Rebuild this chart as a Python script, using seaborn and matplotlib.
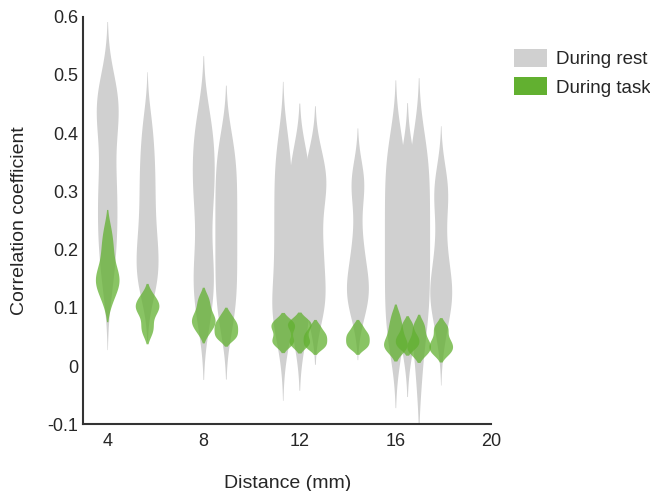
import numpy as np
import pandas as pd
import matplotlib
matplotlib.use("Agg")
import matplotlib.pyplot as plt
from matplotlib.patches import Patch
import seaborn as sns

# electrode pair distances (mm)
distances = [4, 5.66, 8, 8.94, 11.31, 12, 12.65, 14.42, 16, 16.49, 16.97, 17.89]

# correlation values, one list per distance
rest_values = [
    [0.12, 0.15, 0.17, 0.19, 0.205, 0.22, 0.235, 0.25, 0.265, 0.28, 0.295, 0.31, 0.325, 0.34, 0.36, 0.39, 0.405, 0.42, 0.43, 0.44, 0.45, 0.46, 0.47, 0.48, 0.50],
    [0.12, 0.13, 0.14, 0.15, 0.16, 0.17, 0.18, 0.19, 0.20, 0.21, 0.22, 0.235, 0.25, 0.265, 0.28, 0.295, 0.31, 0.325, 0.34, 0.355, 0.37, 0.39, 0.41, 0.43],
    [0.07, 0.10, 0.12, 0.14, 0.16, 0.18, 0.20, 0.24, 0.27, 0.29, 0.31, 0.33, 0.35, 0.37, 0.39, 0.41, 0.44],
    [0.06, 0.09, 0.11, 0.13, 0.15, 0.17, 0.19, 0.21, 0.23, 0.25, 0.27, 0.29, 0.31, 0.33, 0.35, 0.37, 0.40],
    [0.03, 0.07, 0.08, 0.09, 0.10, 0.11, 0.13, 0.15, 0.17, 0.19, 0.21, 0.23, 0.25, 0.27, 0.29, 0.31, 0.33, 0.35, 0.37, 0.40],
    [0.04, 0.07, 0.09, 0.11, 0.13, 0.15, 0.17, 0.19, 0.21, 0.23, 0.25, 0.27, 0.29, 0.31, 0.33, 0.35, 0.37],
    [0.08, 0.10, 0.11, 0.12, 0.14, 0.16, 0.18, 0.20, 0.22, 0.25, 0.28, 0.30, 0.31, 0.32, 0.33, 0.35, 0.37],
    [0.08, 0.10, 0.11, 0.12, 0.13, 0.14, 0.15, 0.16, 0.18, 0.20, 0.22, 0.26, 0.30, 0.31, 0.32, 0.34],
    [0.02, 0.05, 0.07, 0.09, 0.11, 0.13, 0.15, 0.17, 0.19, 0.21, 0.23, 0.25, 0.27, 0.29, 0.31, 0.33, 0.35, 0.37, 0.40],
    [0.03, 0.06, 0.08, 0.10, 0.12, 0.14, 0.16, 0.18, 0.20, 0.22, 0.24, 0.26, 0.28, 0.30, 0.32, 0.34, 0.37],
    [-0.02, 0.04, 0.07, 0.09, 0.11, 0.13, 0.15, 0.17, 0.19, 0.21, 0.23, 0.25, 0.27, 0.29, 0.31, 0.33, 0.35, 0.37, 0.40],
    [0.04, 0.07, 0.09, 0.10, 0.11, 0.12, 0.13, 0.14, 0.15, 0.16, 0.18, 0.20, 0.22, 0.25, 0.28, 0.29, 0.30, 0.32, 0.34],
]

task_values = [
    [0.105, 0.12, 0.13, 0.135, 0.14, 0.145, 0.15, 0.155, 0.16, 0.165, 0.175, 0.19, 0.20, 0.21, 0.225, 0.24],
    [0.055, 0.065, 0.075, 0.09, 0.095, 0.10, 0.105, 0.11, 0.115, 0.125],
    [0.055, 0.065, 0.07, 0.075, 0.08, 0.085, 0.09, 0.10, 0.11, 0.12],
    [0.045, 0.05, 0.055, 0.06, 0.065, 0.07, 0.075, 0.08, 0.09],
    [0.035, 0.04, 0.045, 0.05, 0.06, 0.065, 0.07, 0.075, 0.08],
    [0.035, 0.04, 0.045, 0.055, 0.065, 0.07, 0.075, 0.08],
    [0.03, 0.035, 0.04, 0.045, 0.05, 0.055, 0.06, 0.07],
    [0.03, 0.035, 0.04, 0.045, 0.05, 0.055, 0.06, 0.07],
    [0.025, 0.03, 0.035, 0.04, 0.045, 0.055, 0.065, 0.075, 0.09],
    [0.03, 0.035, 0.04, 0.045, 0.05, 0.055, 0.065, 0.075],
    [0.02, 0.025, 0.03, 0.035, 0.04, 0.045, 0.055, 0.065, 0.075],
    [0.02, 0.025, 0.03, 0.035, 0.04, 0.045, 0.055, 0.065, 0.07],
]

y_ticks = [-0.1, 0, 0.1, 0.2, 0.3, 0.4, 0.5, 0.6]
y_tick_labels = ["-0.1", "0", "0.1", "0.2", "0.3", "0.4", "0.5", "0.6"]
x_ticks = [4, 8, 12, 16, 20]

REST_COLOR = "#d0d0d0"
TASK_COLOR = "#62b030"
TEXT_COLOR = "#262626"


def to_long(values):
    rows = []
    for d, vals in zip(distances, values):
        for v in vals:
            rows.append({"distance": d, "corr": v})
    return pd.DataFrame(rows)


rest_df = to_long(rest_values)
task_df = to_long(task_values)

sns.set_style("white")
plt.rcParams["font.family"] = ["Liberation Sans", "DejaVu Sans"]

fig = plt.figure(figsize=(6.5, 4.91), dpi=100)
ax = fig.add_axes([0.128, 0.136, 0.628, 0.830])

sns.violinplot(data=rest_df, x="distance", y="corr", native_scale=True, orient="x",
               color=REST_COLOR, saturation=1, inner=None, linewidth=0,
               density_norm="width", width=1.9, cut=2, bw_method=0.4, ax=ax)
sns.violinplot(data=task_df, x="distance", y="corr", native_scale=True, orient="x",
               color=TASK_COLOR, saturation=1, inner=None, linewidth=0,
               density_norm="width", width=2.05, cut=1.5, bw_method=0.5, ax=ax)

# make the task violins see-through like the original
for coll in ax.collections[len(distances):]:
    coll.set_alpha(0.75)

ax.set_xlim(3, 20)
ax.set_ylim(-0.1, 0.6)
ax.set_xticks(x_ticks)
ax.set_xticklabels([str(t) for t in x_ticks])
ax.set_yticks(y_ticks)
ax.set_yticklabels(y_tick_labels)
ax.set_xlabel("Distance (mm)", fontsize=14, color=TEXT_COLOR, labelpad=18)
ax.set_ylabel("Correlation coefficient", fontsize=14, color=TEXT_COLOR, labelpad=14)

sns.despine(ax=ax)
for side in ["left", "bottom"]:
    ax.spines[side].set_color("#333333")
    ax.spines[side].set_linewidth(1.5)
ax.tick_params(direction="in", length=4, width=1.5, color="#333333",
               labelsize=13, labelcolor=TEXT_COLOR)
ax.tick_params(axis="x", pad=6)

handles = [Patch(facecolor=REST_COLOR, edgecolor="none", label="During rest"),
           Patch(facecolor=TASK_COLOR, edgecolor="none", label="During task")]
fig.legend(handles=handles, loc="upper left", bbox_to_anchor=(0.765, 0.935),
           frameon=False, fontsize=13.5, handlelength=1.75, handleheight=1.15,
           labelspacing=0.45, handletextpad=0.5, labelcolor=TEXT_COLOR)

fig.savefig("out.png", dpi=100)
